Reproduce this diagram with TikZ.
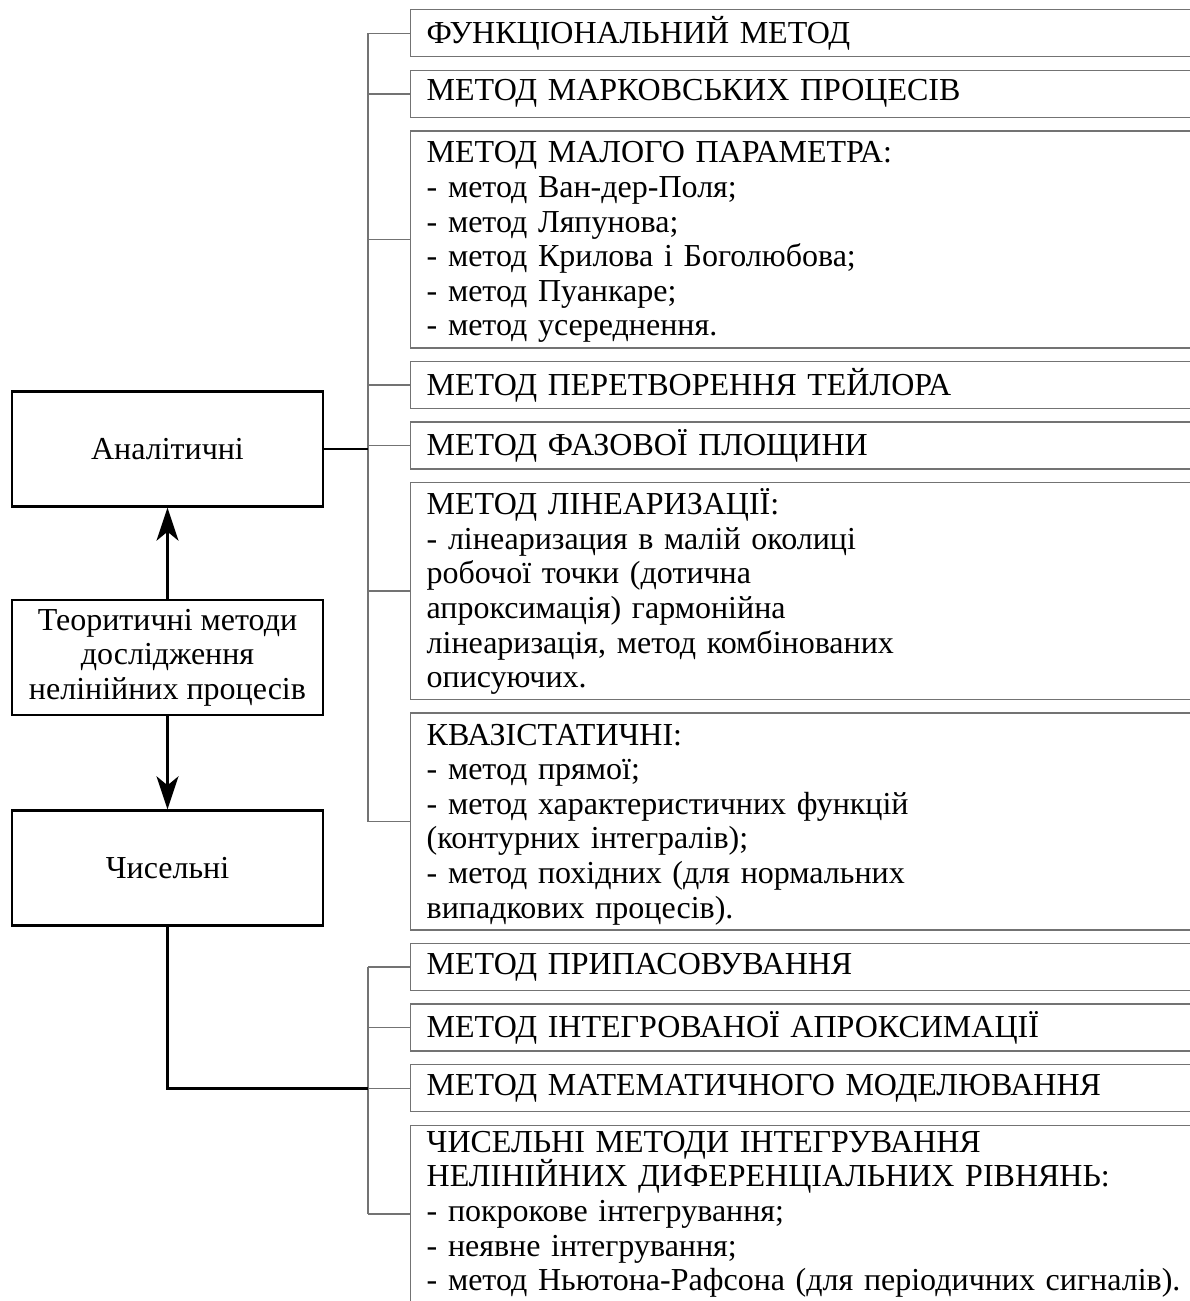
\documentclass[tikz,border=0pt]{standalone}
\usepackage{fontspec}
\setmainfont{Liberation Serif}
\usetikzlibrary{positioning,arrows.meta}
\newcommand\topstrut{\rule{0pt}{27pt}}
\tikzset{
  mainbox/.style={draw,line width=2.6pt,minimum width=311pt,minimum height=115pt,align=center,inner sep=0pt},
  methbox/.style={draw=black!55,line width=1.4pt,text width=780pt,align=left,inner xsep=16pt,inner ysep=5pt,minimum height=47pt},
  branch/.style={black!55,line width=1.4pt},
  link/.style={line width=2.6pt}
}
\begin{document}
\begin{tikzpicture}[x=1pt,y=-1pt,>={Stealth[length=33pt,width=22pt,inset=9pt]},font=\fontsize{32}{34.6}\selectfont,node distance=12.2pt]
\useasboundingbox (0,0) rectangle (1190,1301);
\clip (0,0) rectangle (1190,1301);
\node[mainbox] (theory) at (167.5,657.5) {Теоритичні методи\\дослідження\\нелінійних процесів};
\node[mainbox,above=91pt of theory] (anal) {Аналітичні};
\node[mainbox,below=93pt of theory] (num) {Чисельні};
\draw[link,->] (theory) -- (anal);
\draw[link,->] (theory) -- (num);
\node[methbox,anchor=north west] (m1) at (410,9) {ФУНКЦІОНАЛЬНИЙ МЕТОД};
\node[methbox,below=of m1] (m2) {МЕТОД МАРКОВСЬКИХ ПРОЦЕСІВ};
\node[methbox,below=of m2] (m3) {\topstrut МЕТОД МАЛОГО ПАРАМЕТРА:\\- метод Ван-дер-Поля;\\- метод Ляпунова;\\- метод Крилова і Боголюбова;\\- метод Пуанкаре;\\- метод усереднення.};
\node[methbox,below=of m3] (m4) {МЕТОД ПЕРЕТВОРЕННЯ ТЕЙЛОРА};
\node[methbox,below=of m4] (m5) {МЕТОД ФАЗОВОЇ ПЛОЩИНИ};
\node[methbox,below=of m5] (m6) {\topstrut МЕТОД ЛІНЕАРИЗАЦІЇ:\\- лінеаризация в малій околиці\\робочої точки (дотична\\апроксимація) гармонійна\\лінеаризація, метод комбінованих\\описуючих.};
\node[methbox,below=of m6] (m7) {\topstrut КВАЗІСТАТИЧНІ:\\- метод прямої;\\- метод характеристичних функцій\\(контурних інтегралів);\\- метод похідних (для нормальних\\випадкових процесів).};
\node[methbox,below=of m7] (m8) {МЕТОД ПРИПАСОВУВАННЯ};
\node[methbox,below=of m8] (m9) {МЕТОД ІНТЕГРОВАНОЇ АПРОКСИМАЦІЇ};
\node[methbox,below=of m9] (m10) {МЕТОД МАТЕМАТИЧНОГО МОДЕЛЮВАННЯ};
\node[methbox,below=of m10] (m11) {\rule{0pt}{22pt}ЧИСЕЛЬНІ МЕТОДИ ІНТЕГРУВАННЯ\\НЕЛІНІЙНИХ ДИФЕРЕНЦІАЛЬНИХ РІВНЯНЬ:\\- покрокове інтегрування;\\- неявне інтегрування;\\- метод Ньютона-Рафсона (для періодичних сигналів).};
\foreach \m in {m1,m2,m3,m4,m5,m6,m7,m8,m9,m10,m11}
  \draw[branch] (\m.west) -- ++(-42,0);
\coordinate (t1) at ([xshift=-42pt]m1.west);
\coordinate (t2) at ([xshift=-42pt]m8.west);
\draw[branch] (t1) -- (t1 |- m7.west);
\draw[branch] (t2) -- (t2 |- m11.west);
\draw[link] (anal.east) -- (anal.east -| t1);
\draw[link] (num.south) |- (t2 |- m10.west);
\end{tikzpicture}
\end{document}
